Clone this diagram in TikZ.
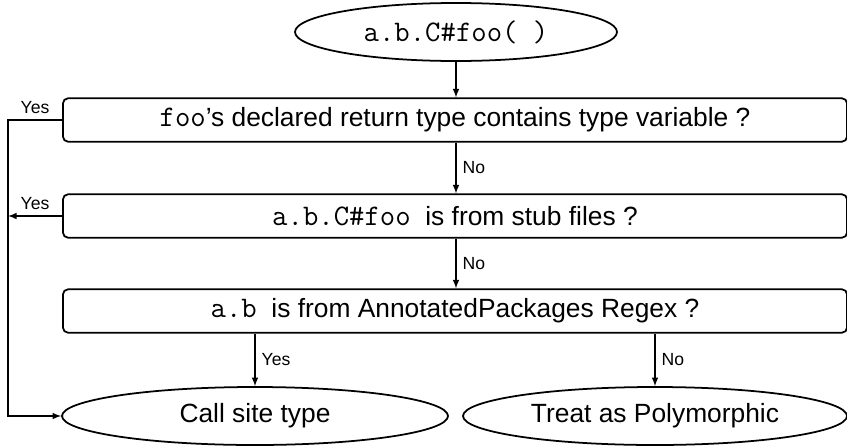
\documentclass[tikz,border=0pt]{standalone}
\usepackage{fontspec}
\setmainfont{Liberation Sans}
\usetikzlibrary{arrows,shapes.geometric}
\newcommand{\code}[1]{{\fontsize{25.5}{26}\selectfont\ttfamily #1}}
\tikzset{
  decision/.style={draw, rounded corners=0.15cm, line width=1.5pt, minimum width=23.52cm, minimum height=1.3cm, inner sep=0pt, font=\fontsize{22.5}{26}\selectfont},
  terminal/.style={draw, ellipse, line width=1.5pt, inner sep=0pt, minimum height=1.74cm, font=\fontsize{22.5}{26}\selectfont},
  flow/.style={->, >=latex, line width=1.5pt},
  branch/.style={inner sep=5pt, font=\fontsize{15}{17}\selectfont}
}

\begin{document}
\begin{tikzpicture}[x=0.03cm, y=-0.03cm]
          \useasboundingbox (0,0) rectangle (847,446);

          \node[terminal, minimum width=9.66cm] (Start) at (456,32) {\code{a.b.C\#foo(~)}};
          \node[decision] (ReturnCheck) at (455,120) {\code{foo}’s declared return type contains type variable ?};
          \node[decision] (StubCheck) at (455,216) {\code{a.b.C\#foo}\ \ is from stub files ?};
          \node[decision] (RegexCheck) at (455,311) {\code{a.b}\ \ is from AnnotatedPackages Regex ?};
          \node[terminal, minimum width=11.58cm] (CallSite) at (255,416) {Call site type};
          \node[terminal, minimum width=11.52cm] (Polymorphic) at (655,416) {Treat as Polymorphic};

          \coordinate (LeftTop) at (8,120);
          \coordinate (LeftMid) at (8,216);
          \coordinate (LeftBottom) at (8,416);

          \draw[flow] (Start.south) -- (Start.south |- ReturnCheck.north);
          \draw[flow] (Start.south |- ReturnCheck.south) -- node[branch, right] {No} (Start.south |- StubCheck.north);
          \draw[flow] (Start.south |- StubCheck.south) -- node[branch, right] {No} (Start.south |- RegexCheck.north);
          \draw[flow] (CallSite.north |- RegexCheck.south) -- node[branch, right] {Yes} (CallSite.north);
          \draw[flow] (Polymorphic.north |- RegexCheck.south) -- node[branch, right] {No} (Polymorphic.north);
          \draw[flow] (ReturnCheck.west) -- node[branch, above] {Yes} (LeftTop) -- (LeftBottom) -- (CallSite.west);
          \draw[flow] (StubCheck.west) -- node[branch, above] {Yes} (LeftMid);
        \end{tikzpicture}
\end{document}
